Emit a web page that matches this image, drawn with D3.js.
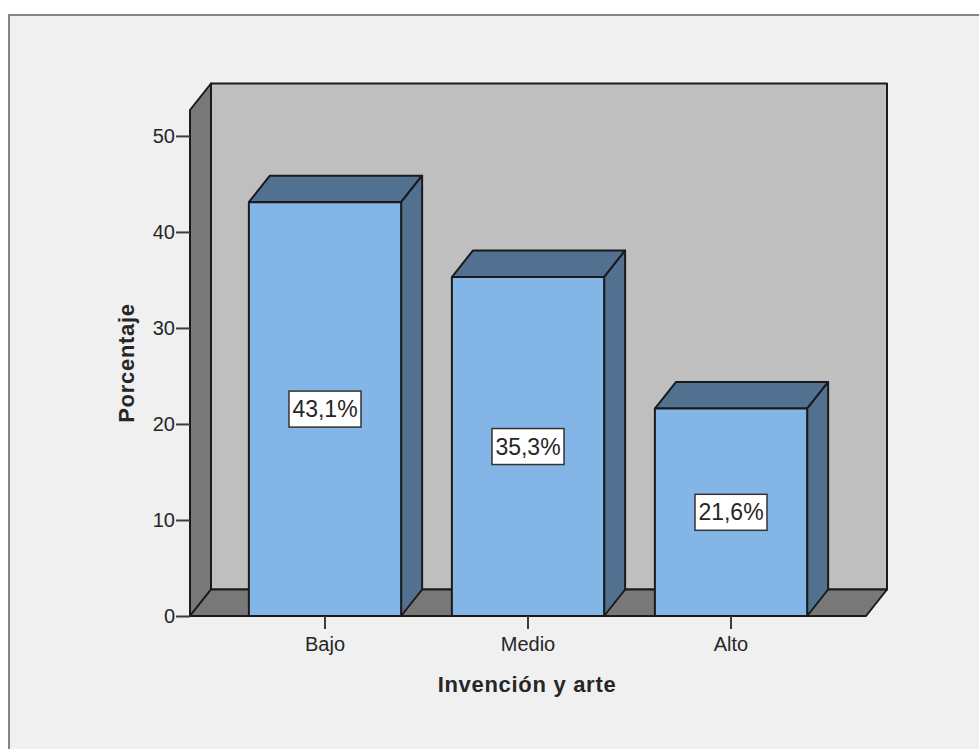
<!DOCTYPE html>
<html>
<head>
<meta charset="utf-8">
<script src="https://cdn.jsdelivr.net/npm/d3@7/dist/d3.min.js"></script>
<style>
html,body{margin:0;padding:0;background:#fff}
svg{display:block}
text{font-family:"Liberation Sans",Arial,sans-serif;fill:#262626}
</style>
</head>
<body>
<svg id="chart" width="979" height="749"></svg>
<script>
const categories = ["Bajo", "Medio", "Alto"];
const percentages = [43.1, 35.3, 21.6];
const valueLabels = ["43,1%", "35,3%", "21,6%"];
const yTicks = [0, 10, 20, 30, 40, 50];
const xTitle = "Invención y arte";
const yTitle = "Porcentaje";
const yMax = 52.7;

const colors = {
  panel: "#f0f0f0", frame: "#858585", wall: "#bfbfbf", side: "#787878",
  barFront: "#83b6e7", barShade: "#527191", ink: "#1a1a1a", tick: "#3c3c3c"
};

// Front plane of the 3D box, and the offset of its back plane.
const plot = { left: 190, right: 866, top: 110, bottom: 616 };
const depth = { dx: 21, dy: -26.5 };

const svg = d3.select("#chart");
const x = d3.scaleBand().domain(categories).range([plot.left, plot.right]).paddingInner(0.25).paddingOuter(0.29);
const y = d3.scaleLinear().domain([0, yMax]).range([plot.bottom, plot.top]);

const poly = (pts, fill) => svg.append("polygon")
  .attr("points", pts.map(p => p.join(",")).join(" "))
  .attr("fill", fill).attr("stroke", colors.ink).attr("stroke-width", 2).attr("stroke-linejoin", "round");

// Outer panel
svg.append("rect").attr("x", 9).attr("y", 15).attr("width", 985).attr("height", 760)
  .attr("fill", colors.panel).attr("stroke", colors.frame).attr("stroke-width", 2);

// Box: back wall, left wall, floor
const { left: L, right: R, top: T, bottom: B } = plot;
const { dx, dy } = depth;
poly([[L + dx, T + dy], [R + dx, T + dy], [R + dx, B + dy], [L + dx, B + dy]], colors.wall);
poly([[L, T], [L + dx, T + dy], [L + dx, B + dy], [L, B]], colors.side);
poly([[L, B], [L + dx, B + dy], [R + dx, B + dy], [R, B]], colors.side);

// Bars: top and side faces first, then the front
categories.forEach((c, i) => {
  const x0 = x(c), x1 = x0 + x.bandwidth(), yt = y(percentages[i]);
  poly([[x0, yt], [x0 + dx, yt + dy], [x1 + dx, yt + dy], [x1, yt]], colors.barShade);
  poly([[x1, yt], [x1 + dx, yt + dy], [x1 + dx, B + dy], [x1, B]], colors.barShade);
  poly([[x0, yt], [x1, yt], [x1, B], [x0, B]], colors.barFront);
});

// Baseline redrawn over the bar feet
svg.append("line").attr("x1", L).attr("x2", R).attr("y1", B).attr("y2", B)
  .attr("stroke", colors.ink).attr("stroke-width", 2);

// Value labels at mid-height of each bar
categories.forEach((c, i) => {
  const cx = x(c) + x.bandwidth() / 2, cy = y(percentages[i] / 2);
  svg.append("rect").attr("x", cx - 36).attr("y", cy - 18).attr("width", 72).attr("height", 36)
    .attr("fill", "#fff").attr("stroke", "#333").attr("stroke-width", 1.5);
  svg.append("text").attr("x", cx).attr("y", cy + 8).attr("text-anchor", "middle")
    .attr("font-size", 23).text(valueLabels[i]);
});

// Axes
const yAxis = svg.append("g").attr("transform", `translate(${L},0)`)
  .call(d3.axisLeft(y).tickValues(yTicks).tickSize(14).tickPadding(1));
const xAxis = svg.append("g").attr("transform", `translate(0,${B})`)
  .call(d3.axisBottom(x).tickSize(13).tickPadding(8));
[yAxis, xAxis].forEach(a => {
  a.select(".domain").remove();
  a.selectAll(".tick line").attr("stroke", colors.tick).attr("stroke-width", 2);
  a.selectAll("text").attr("font-size", 20).attr("font-family", '"Liberation Sans",Arial,sans-serif').attr("fill", "#262626");
});

// Axis titles
svg.append("text").attr("x", 527).attr("y", 692).attr("text-anchor", "middle")
  .attr("font-size", 22).attr("font-weight", "bold").attr("fill", "#111").style("letter-spacing", "0.7px").text(xTitle);
svg.append("text").attr("transform", "translate(134,363) rotate(-90)").attr("text-anchor", "middle")
  .attr("font-size", 22).attr("font-weight", "bold").attr("fill", "#111").style("letter-spacing", "0.7px").text(yTitle);
</script>
</body>
</html>
